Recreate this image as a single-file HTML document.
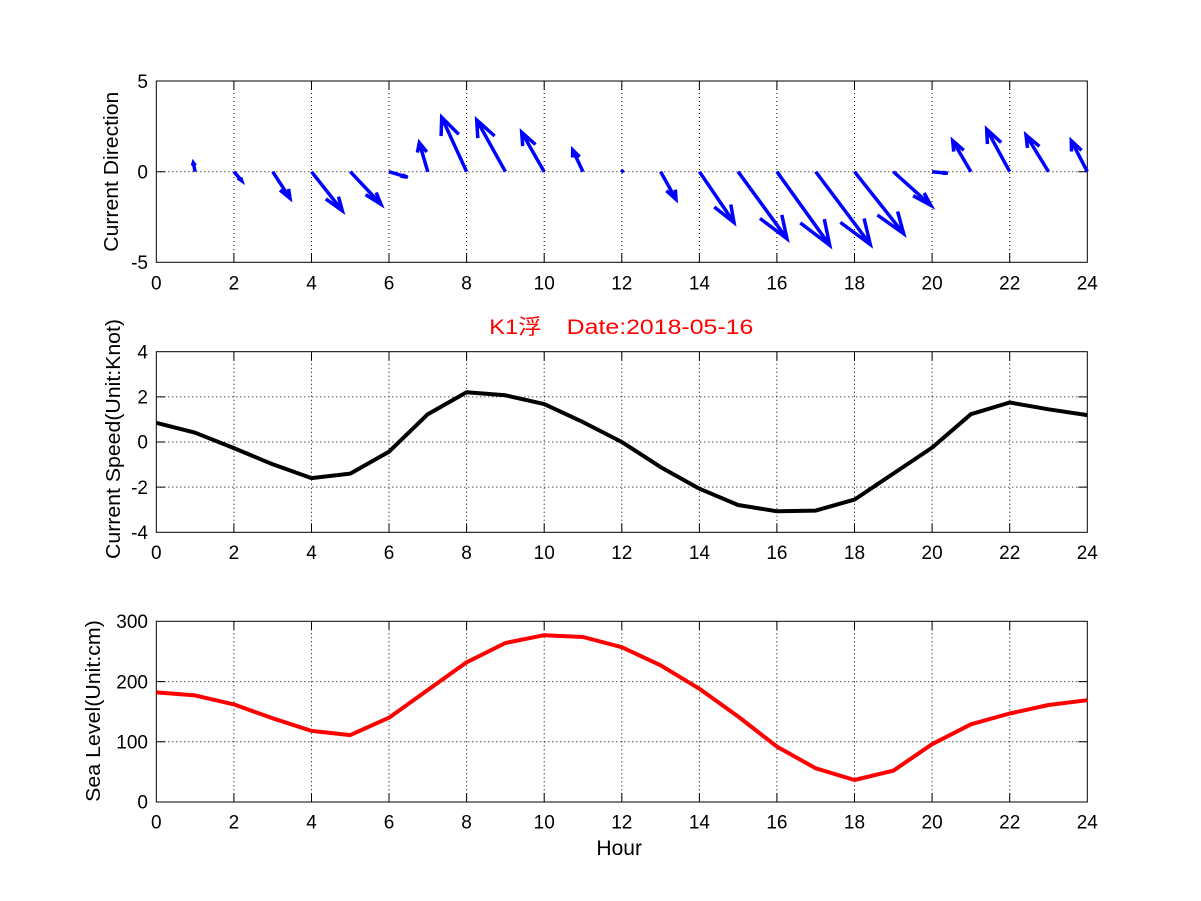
<!DOCTYPE html>
<html>
<head>
<meta charset="utf-8">
<style>
html,body{margin:0;padding:0;background:#fff;}
svg{display:block;}
text{font-family:"Liberation Sans","Noto Sans CJK SC",sans-serif;fill:#000;}
</style>
</head>
<body>
<svg width="1201" height="901" viewBox="0 0 1201 901" xmlns="http://www.w3.org/2000/svg">
<rect x="0" y="0" width="1201" height="901" fill="#fff"/>

<!-- ================= TOP PLOT ================= -->
<g stroke="#000" stroke-width="1" stroke-dasharray="1 3" fill="none">
  <line x1="233.9" y1="81" x2="233.9" y2="262.3"/>
  <line x1="311.5" y1="81" x2="311.5" y2="262.3"/>
  <line x1="389.0" y1="81" x2="389.0" y2="262.3"/>
  <line x1="466.6" y1="81" x2="466.6" y2="262.3"/>
  <line x1="544.2" y1="81" x2="544.2" y2="262.3"/>
  <line x1="621.8" y1="81" x2="621.8" y2="262.3"/>
  <line x1="699.4" y1="81" x2="699.4" y2="262.3"/>
  <line x1="776.9" y1="81" x2="776.9" y2="262.3"/>
  <line x1="854.5" y1="81" x2="854.5" y2="262.3"/>
  <line x1="932.1" y1="81" x2="932.1" y2="262.3"/>
  <line x1="1009.7" y1="81" x2="1009.7" y2="262.3"/>
  <line x1="156.3" y1="171.7" x2="1087.3" y2="171.7"/>
</g>
<g stroke="#000" stroke-width="1" fill="none">
  <rect x="156.3" y="81" width="931" height="181.3"/>
  <path d="M233.9 262.3v-9M311.5 262.3v-9M389 262.3v-9M466.6 262.3v-9M544.2 262.3v-9M621.8 262.3v-9M699.4 262.3v-9M776.9 262.3v-9M854.5 262.3v-9M932.1 262.3v-9M1009.7 262.3v-9
           M233.9 81v9M311.5 81v9M389 81v9M466.6 81v9M544.2 81v9M621.8 81v9M699.4 81v9M776.9 81v9M854.5 81v9M932.1 81v9M1009.7 81v9
           M156.3 171.7h9M1087.3 171.7h-9"/>
</g>
<!-- arrows -->
<g stroke="#0000ff" stroke-width="3.5" fill="none" stroke-linejoin="miter" stroke-linecap="butt">
  <path d="M195.1 171.7L193.3 162.7M192.4 165.7L193.3 162.7L195.35 165.6"/>
  <path d="M233.9 171.7L241.7 180.7M240.6 177.5L241.7 180.7L237.7 178.0"/>
  <path d="M272.7 171.7L290 198.3M288.6 188.9L290 198.3L280.0 190.1"/>
  <path d="M311.5 171.7L342.3 210.7M338.5 196.7L342.3 210.7L325.8 198.9"/>
  <path d="M350.3 171.7L381 204.3M376.2 192.5L381 204.3L365.6 194.6"/>
  <path d="M389 171.7L407.7 177.3M402.4 174.8L407.7 177.3L400.6 176.1"/>
  <path d="M427.8 171.7L419.3 142.7M417.4 152.6L419.3 142.7L426.8 152.0"/>
  <path d="M466.6 171.7L441.7 117.3M441.1 136.1L441.7 117.3L458.8 134.4"/>
  <path d="M505.4 171.7L476.7 120M477.8 138.1L476.7 120L494.6 136.0"/>
  <path d="M544.2 171.7L521.7 132.3M522.7 146.1L521.7 132.3L535.5 144.5"/>
  <path d="M583 171.7L572.7 150M572.6 157.5L572.7 150L579.6 156.8"/>
  <path d="M621.3 172.2L623.6 170.0"/>
  <path d="M660.6 171.7L676 199.3M675.4 189.6L676 199.3L666.4 190.7"/>
  <path d="M699.4 171.7L734 222.5M730.8 204.5L734 222.5L714.3 207.0"/>
  <path d="M738.1 171.7L787 238.8M781.8 214.9L787 238.8L760.0 218.4"/>
  <path d="M776.9 171.7L829.7 245.3M824.3 219.1L829.7 245.3L800.3 222.9"/>
  <path d="M815.7 171.7L870.3 244.5M864.1 218.5L870.3 244.5L840.4 222.4"/>
  <path d="M854.5 171.7L903.7 233.7M897.6 211.5L903.7 233.7L877.4 215.0"/>
  <path d="M893.3 171.7L931 205.5M924.1 193.0L931 205.5L913.1 195.7"/>
  <path d="M932.1 171.7L947.7 173.3M942.8 172.2L947.7 173.3L942.3 173.3"/>
  <path d="M970.9 171.7L952.7 140.7M953.7 151.6L952.7 140.7L963.8 150.3"/>
  <path d="M1009.7 171.7L986.7 129.3M987.4 144.1L986.7 129.3L1001.2 142.5"/>
  <path d="M1048.5 171.7L1026 135M1027.5 147.9L1026 135L1039.4 146.3"/>
  <path d="M1087.3 171.7L1071.3 140.7M1071.5 151.5L1071.3 140.7L1081.6 150.4"/>
</g>
<g font-size="19" text-anchor="end">
  <text x="148" y="88">5</text>
  <text x="148" y="178.4">0</text>
  <text x="148" y="269">-5</text>
</g>
<g font-size="19" text-anchor="middle">
  <text x="156.3" y="289.3">0</text>
  <text x="233.9" y="289.3">2</text>
  <text x="311.5" y="289.3">4</text>
  <text x="389.0" y="289.3">6</text>
  <text x="466.6" y="289.3">8</text>
  <text x="544.2" y="289.3">10</text>
  <text x="621.8" y="289.3">12</text>
  <text x="699.4" y="289.3">14</text>
  <text x="776.9" y="289.3">16</text>
  <text x="854.5" y="289.3">18</text>
  <text x="932.1" y="289.3">20</text>
  <text x="1009.7" y="289.3">22</text>
  <text x="1087.3" y="289.3">24</text>
</g>
<text transform="translate(118,171.7) rotate(-90)" text-anchor="middle" font-size="20" textLength="160" lengthAdjust="spacingAndGlyphs">Current Direction</text>

<!-- ================= MIDDLE PLOT ================= -->
<text x="489.3" y="334" font-size="21" style="fill:#ff0000" textLength="52.4" lengthAdjust="spacingAndGlyphs">K1浮</text>
<text x="566.7" y="334" font-size="21" style="fill:#ff0000" textLength="186.6" lengthAdjust="spacingAndGlyphs">Date:2018-05-16</text>

<g stroke="#000" stroke-width="1" stroke-dasharray="1 3" fill="none">
  <line x1="233.9" y1="351.7" x2="233.9" y2="532.3"/>
  <line x1="311.5" y1="351.7" x2="311.5" y2="532.3"/>
  <line x1="389.0" y1="351.7" x2="389.0" y2="532.3"/>
  <line x1="466.6" y1="351.7" x2="466.6" y2="532.3"/>
  <line x1="544.2" y1="351.7" x2="544.2" y2="532.3"/>
  <line x1="621.8" y1="351.7" x2="621.8" y2="532.3"/>
  <line x1="699.4" y1="351.7" x2="699.4" y2="532.3"/>
  <line x1="776.9" y1="351.7" x2="776.9" y2="532.3"/>
  <line x1="854.5" y1="351.7" x2="854.5" y2="532.3"/>
  <line x1="932.1" y1="351.7" x2="932.1" y2="532.3"/>
  <line x1="1009.7" y1="351.7" x2="1009.7" y2="532.3"/>
  <line x1="156.3" y1="396.85" x2="1087.3" y2="396.85"/>
  <line x1="156.3" y1="442" x2="1087.3" y2="442"/>
  <line x1="156.3" y1="487.15" x2="1087.3" y2="487.15"/>
</g>
<g stroke="#000" stroke-width="1" fill="none">
  <rect x="156.3" y="351.7" width="931" height="180.6"/>
  <path d="M233.9 532.3v-9M311.5 532.3v-9M389 532.3v-9M466.6 532.3v-9M544.2 532.3v-9M621.8 532.3v-9M699.4 532.3v-9M776.9 532.3v-9M854.5 532.3v-9M932.1 532.3v-9M1009.7 532.3v-9
           M233.9 351.7v9M311.5 351.7v9M389 351.7v9M466.6 351.7v9M544.2 351.7v9M621.8 351.7v9M699.4 351.7v9M776.9 351.7v9M854.5 351.7v9M932.1 351.7v9M1009.7 351.7v9
           M156.3 396.85h9M156.3 442h9M156.3 487.15h9M1087.3 396.85h-9M1087.3 442h-9M1087.3 487.15h-9"/>
</g>
<polyline fill="none" stroke="#000" stroke-width="4" stroke-linejoin="round"
  points="156.3,422.8 195.1,432.7 233.9,448.1 272.7,464.3 311.5,478.1 350.3,473.6 389.0,451.7 427.8,414.2 466.6,392.3 505.4,395.3 544.2,404.1 583.0,422.1 621.8,442.0 660.6,467.1 699.4,488.7 738.1,505.0 776.9,511.3 815.7,510.6 854.5,499.6 893.3,473.6 932.1,447.6 970.9,414.2 1009.7,402.5 1048.5,409.3 1087.3,415.1"/>
<g font-size="19" text-anchor="end">
  <text x="148" y="358.4">4</text>
  <text x="148" y="403.5">2</text>
  <text x="148" y="448.7">0</text>
  <text x="148" y="493.8">-2</text>
  <text x="148" y="539">-4</text>
</g>
<g font-size="19" text-anchor="middle">
  <text x="156.3" y="558.8">0</text>
  <text x="233.9" y="558.8">2</text>
  <text x="311.5" y="558.8">4</text>
  <text x="389.0" y="558.8">6</text>
  <text x="466.6" y="558.8">8</text>
  <text x="544.2" y="558.8">10</text>
  <text x="621.8" y="558.8">12</text>
  <text x="699.4" y="558.8">14</text>
  <text x="776.9" y="558.8">16</text>
  <text x="854.5" y="558.8">18</text>
  <text x="932.1" y="558.8">20</text>
  <text x="1009.7" y="558.8">22</text>
  <text x="1087.3" y="558.8">24</text>
</g>
<text transform="translate(120,439) rotate(-90)" text-anchor="middle" font-size="20" textLength="240" lengthAdjust="spacingAndGlyphs">Current Speed(Unit:Knot)</text>

<!-- ================= BOTTOM PLOT ================= -->
<g stroke="#000" stroke-width="1" stroke-dasharray="1 3" fill="none">
  <line x1="233.9" y1="621.3" x2="233.9" y2="802"/>
  <line x1="311.5" y1="621.3" x2="311.5" y2="802"/>
  <line x1="389.0" y1="621.3" x2="389.0" y2="802"/>
  <line x1="466.6" y1="621.3" x2="466.6" y2="802"/>
  <line x1="544.2" y1="621.3" x2="544.2" y2="802"/>
  <line x1="621.8" y1="621.3" x2="621.8" y2="802"/>
  <line x1="699.4" y1="621.3" x2="699.4" y2="802"/>
  <line x1="776.9" y1="621.3" x2="776.9" y2="802"/>
  <line x1="854.5" y1="621.3" x2="854.5" y2="802"/>
  <line x1="932.1" y1="621.3" x2="932.1" y2="802"/>
  <line x1="1009.7" y1="621.3" x2="1009.7" y2="802"/>
  <line x1="156.3" y1="681.6" x2="1087.3" y2="681.6"/>
  <line x1="156.3" y1="741.8" x2="1087.3" y2="741.8"/>
</g>
<g stroke="#000" stroke-width="1" fill="none">
  <rect x="156.3" y="621.3" width="931" height="180.7"/>
  <path d="M233.9 802v-9M311.5 802v-9M389 802v-9M466.6 802v-9M544.2 802v-9M621.8 802v-9M699.4 802v-9M776.9 802v-9M854.5 802v-9M932.1 802v-9M1009.7 802v-9
           M233.9 621.3v9M311.5 621.3v9M389 621.3v9M466.6 621.3v9M544.2 621.3v9M621.8 621.3v9M699.4 621.3v9M776.9 621.3v9M854.5 621.3v9M932.1 621.3v9M1009.7 621.3v9
           M156.3 681.6h9M156.3 741.8h9M1087.3 681.6h-9M1087.3 741.8h-9"/>
</g>
<polyline fill="none" stroke="#ff0000" stroke-width="4" stroke-linejoin="round"
  points="156.3,692.4 195.1,695.4 233.9,704.4 272.7,718.3 311.5,730.9 350.3,735.1 389.0,717.7 427.8,690.0 466.6,662.3 505.4,643.0 544.2,635.2 583.0,637.0 621.8,647.2 660.6,665.3 699.4,688.8 738.1,716.5 776.9,746.6 815.7,768.3 854.5,780.0 893.3,770.7 932.1,744.2 970.9,724.3 1009.7,713.5 1048.5,705.0 1087.3,700.2"/>
<g font-size="19" text-anchor="end">
  <text x="148" y="628">300</text>
  <text x="148" y="688.3">200</text>
  <text x="148" y="748.5">100</text>
  <text x="148" y="808.7">0</text>
</g>
<g font-size="19" text-anchor="middle">
  <text x="156.3" y="828.7">0</text>
  <text x="233.9" y="828.7">2</text>
  <text x="311.5" y="828.7">4</text>
  <text x="389.0" y="828.7">6</text>
  <text x="466.6" y="828.7">8</text>
  <text x="544.2" y="828.7">10</text>
  <text x="621.8" y="828.7">12</text>
  <text x="699.4" y="828.7">14</text>
  <text x="776.9" y="828.7">16</text>
  <text x="854.5" y="828.7">18</text>
  <text x="932.1" y="828.7">20</text>
  <text x="1009.7" y="828.7">22</text>
  <text x="1087.3" y="828.7">24</text>
</g>
<text transform="translate(100,711) rotate(-90)" text-anchor="middle" font-size="20" textLength="181.7" lengthAdjust="spacingAndGlyphs">Sea Level(Unit:cm)</text>
<text x="619.2" y="855" text-anchor="middle" font-size="21">Hour</text>
</svg>
</body>
</html>
